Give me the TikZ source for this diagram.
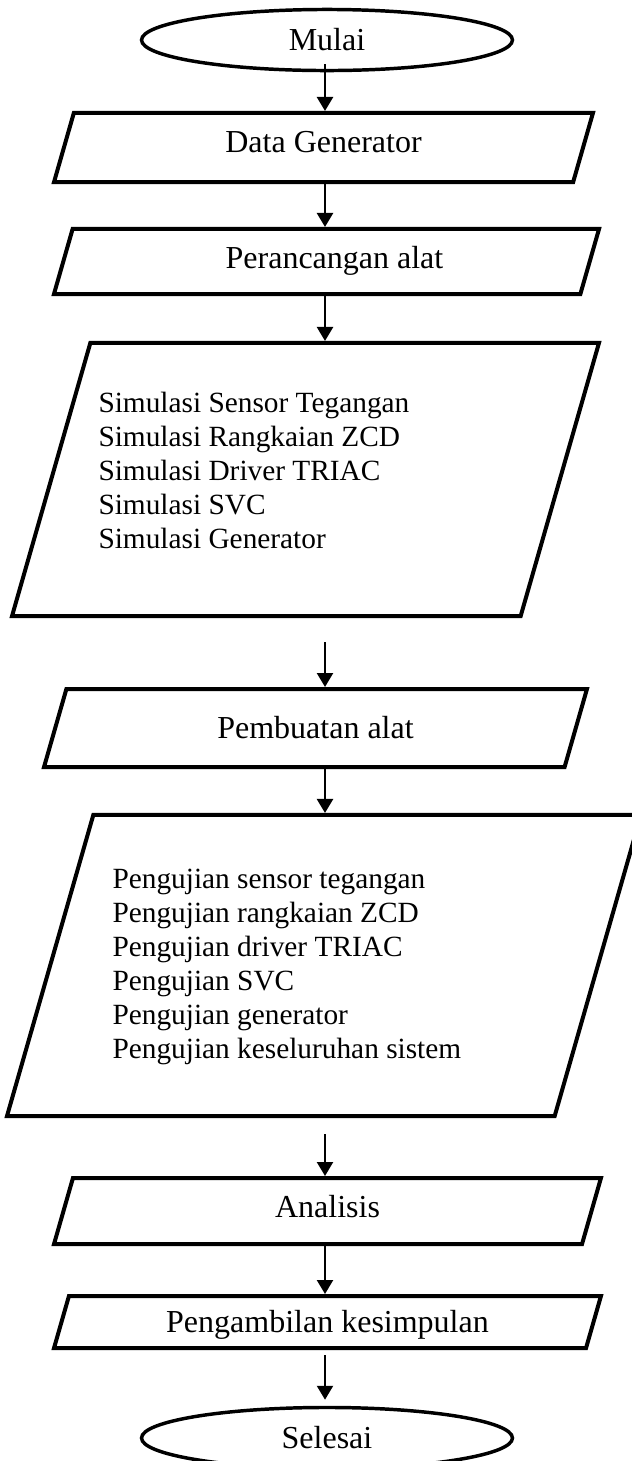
\documentclass[tikz,border=0pt]{standalone}
\usepackage{fontspec}
\setmainfont{Liberation Serif}
\usetikzlibrary{shapes.geometric,arrows.meta}

\tikzset{
  term/.style={draw, ellipse, line width=1.3pt, minimum width=139.1pt, minimum height=22.9pt,
               inner sep=0pt, font=\fontsize{12}{14}\selectfont},
  io/.style={draw, trapezium, trapezium left angle=74, trapezium right angle=106,
             trapezium stretches body, line width=1.5pt, inner xsep=2pt, inner ysep=0pt,
             font=\fontsize{12}{14}\selectfont},
  lst/.style={anchor=west, align=left, inner sep=0pt, font=\fontsize{11}{12.75}\selectfont},
  arr/.style={line width=0.9pt, -{Triangle[length=5.25pt,width=6pt]}}
}

\begin{document}
\begin{tikzpicture}[x=0.375pt, y=-0.375pt]
      \useasboundingbox (0, 0) rectangle (632, 1461);
      \node [term] (mulai) at (327, 40) {Mulai};
      \node [io, minimum width=202.1pt, text height=14.95pt, text depth=10.95pt] (datagen) at (323.5, 147.5) {Data Generator};
      \node [io, minimum width=204.4pt, text height=14.9pt, text depth=9.5pt] (rancang) at (326.5, 261.5) {\hspace{6pt}Perancangan alat};
      \node [io, minimum width=220.1pt, text height=51.2pt, text depth=51.2pt] (simulasi) at (305.5, 479.5) {};
      \node [lst] (simtext) at (98, 470) {Simulasi Sensor Tegangan\\ Simulasi Rangkaian ZCD\\
            Simulasi Driver TRIAC\\ Simulasi SVC\\ Simulasi Generator};
      \node [io, minimum width=203.6pt, text height=18.625pt, text depth=10.625pt] (buat) at (315.5, 728) {Pembuatan alat};
      \node [io, minimum width=237.75pt, text height=56.45pt, text depth=56.45pt] (uji) at (324, 965.5) {};
      \node [lst] (ujitext) at (112, 966.5) {Pengujian sensor tegangan\\ Pengujian rangkaian ZCD\\
            Pengujian driver TRIAC\\ Pengujian SVC\\ Pengujian generator\\ Pengujian keseluruhan sistem};
      \node [io, minimum width=205.1pt, text height=14.875pt, text depth=9.875pt] (analisis) at (327.5, 1211) {Analisis};
      \node [io, minimum width=205.1pt, text height=13.75pt, text depth=5.75pt] (simpul) at (327.5, 1322) {Pengambilan kesimpulan};
      \node [term] (selesai) at (327, 1438) {Selesai};

      % garis alur
      \coordinate (axis) at (325, 0);
      \draw [arr, shorten <=-3pt] (mulai.south -| axis) -- (datagen.north -| axis);
      \draw [arr] (datagen.south -| axis) -- (rancang.north -| axis);
      \draw [arr] (rancang.south -| axis) -- (simulasi.north -| axis);
      \draw [arr, shorten <=9pt] (simulasi.south -| axis) -- (buat.north -| axis);
      \draw [arr] (buat.south -| axis) -- (uji.north -| axis);
      \draw [arr, shorten <=6pt] (uji.south -| axis) -- (analisis.north -| axis);
      \draw [arr] (analisis.south -| axis) -- (simpul.north -| axis);
      \draw [arr, shorten <=2pt, shorten >=2.25pt] (simpul.south -| axis) -- (selesai.north -| axis);
\end{tikzpicture}
\end{document}
